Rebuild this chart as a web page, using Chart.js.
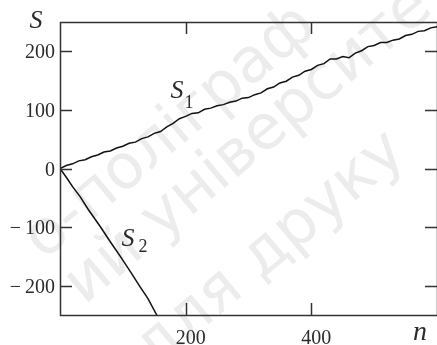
<!DOCTYPE html>
<html>
<head>
<meta charset="utf-8">
<script src="https://cdn.jsdelivr.net/npm/chart.js@4"></script>
<style>
  html, body { margin: 0; padding: 0; background: #fff; }
  #wrap { width: 437px; height: 345px; }
</style>
</head>
<body>
<div id="wrap"><canvas id="chart" width="437" height="345"></canvas></div>
<script>
// S1 - random walk with drift
const nS1 = [0, 10, 20, 30, 40, 50, 60, 70, 80, 90, 100, 110, 120, 130, 140, 150, 160, 170, 180, 190,
             200, 210, 220, 230, 240, 250, 260, 270, 280, 290, 300, 310, 320, 330, 340, 350, 360, 370, 380, 390,
             400, 410, 420, 430, 440, 450, 460, 470, 480, 490, 500, 510, 520, 530, 540, 550, 560, 570, 580, 590, 600];
const valS1 = [0, 5, 8, 13, 15, 20, 23, 28, 30, 35, 38, 43, 45, 51, 54, 60, 63, 71, 77, 85,
               89, 94, 95, 101, 103, 107, 109, 113, 115, 120, 121, 126, 129, 136, 139, 146, 149, 156, 159, 166,
               169, 176, 179, 187, 187, 191, 189, 197, 201, 208, 210, 215, 215, 219, 221, 227, 229, 234, 235, 240, 242];

// S2
const nS2 = [0, 10, 20, 32, 45, 64, 80, 96, 112, 127, 140, 154, 160];
const valS2 = [0, -15, -31, -48, -70, -99, -125, -150, -176, -201, -222, -250, -259];

const xTicks = [200, 400];
const yTicks = [-200, -100, 0, 100, 200];

// watermark lines
const wmLines = ['о-поліграф', 'ий університет', 'для друку'];

const toPts = (xs, ys) => xs.map((x, i) => ({ x: x, y: ys[i] }));

const serif = "'Liberation Serif', 'Times New Roman', serif";
const ink = '#2b2b2b';

const yLabel = v => v < 0 ? '\u2212\u2009' + Math.abs(v) : String(v);

const watermark = {
    id: 'watermark',
    beforeDraw(chart) {
        const ctx = chart.ctx;
        const ends = [[308, 18], [452, -24], [398, 144]];
        ctx.save();
        ctx.fillStyle = '#ececec';
        ctx.font = "62px 'DejaVu Sans', sans-serif";
        ctx.textAlign = 'right';
        ctx.textBaseline = 'middle';
        wmLines.forEach((t, i) => {
            ctx.save();
            ctx.translate(ends[i][0], ends[i][1]);
            ctx.rotate(-40 * Math.PI / 180);
            ctx.fillText(t, 0, 0);
            ctx.restore();
        });
        ctx.restore();
    }
};

const frame = {
    id: 'frame',
    afterDraw(chart) {
        const ctx = chart.ctx;
        const a = chart.chartArea;
        const xs = chart.scales.x, ys = chart.scales.y;
        ctx.save();
        ctx.strokeStyle = '#333';
        ctx.lineWidth = 1.5;
        ctx.strokeRect(a.left + 0.5, a.top + 0.5, a.right - a.left, a.bottom - a.top);
        ctx.beginPath();
        yTicks.forEach(v => {
            const y = Math.round(ys.getPixelForValue(v)) + 0.5;
            ctx.moveTo(a.left, y); ctx.lineTo(a.left + 12, y);
            ctx.moveTo(a.right, y); ctx.lineTo(a.right - 12, y);
        });
        xTicks.forEach(v => {
            const x = Math.round(xs.getPixelForValue(v)) + 0.5;
            ctx.moveTo(x, a.bottom); ctx.lineTo(x, a.bottom - 12);
            ctx.moveTo(x, a.top); ctx.lineTo(x, a.top + 12);
        });
        ctx.stroke();

        // tick labels
        ctx.fillStyle = ink;
        ctx.font = '20px ' + serif;
        ctx.textBaseline = 'alphabetic';
        ctx.textAlign = 'right';
        yTicks.forEach(v => {
            ctx.fillText(yLabel(v), a.left - 5, ys.getPixelForValue(v) + 7);
        });
        ctx.textAlign = 'center';
        xTicks.forEach(v => {
            ctx.fillText(String(v), xs.getPixelForValue(v) + 5, 344);
        });

        // axis names and curve labels
        ctx.textBaseline = 'middle';
        ctx.font = 'italic 26px ' + serif;
        ctx.fillText('S', 36, 21);
        ctx.fillText('S', 177, 91);
        ctx.fillText('S', 128, 239);
        ctx.font = 'italic 28px ' + serif;
        ctx.fillText('n', 420, 333);
        ctx.font = '18px ' + serif;
        ctx.fillText('1', 189, 103);
        ctx.fillText('2', 143, 247);
        ctx.restore();
    }
};

function draw() {
    const ctx = document.getElementById('chart').getContext('2d');
    new Chart(ctx, {
        type: 'line',
        data: {
            datasets: [{
                label: 'S1',
                data: toPts(nS1, valS1),
                borderColor: '#111',
                borderWidth: 1.5,
                pointRadius: 0,
                tension: 0
            }, {
                label: 'S2',
                data: toPts(nS2, valS2),
                borderColor: '#111',
                borderWidth: 1.5,
                pointRadius: 0,
                tension: 0
            }]
        },
        options: {
            responsive: false,
            animation: false,
            devicePixelRatio: 1,
            layout: { padding: { top: 22, right: 0, left: 0, bottom: 0 } },
            plugins: {
                legend: { display: false },
                tooltip: { enabled: false }
            },
            scales: {
                x: {
                    type: 'linear',
                    min: 0,
                    max: 600,
                    grid: { display: false },
                    border: { display: false },
                    ticks: { display: false },
                    afterFit: s => { s.height = 30; }
                },
                y: {
                    type: 'linear',
                    min: -250,
                    max: 250,
                    grid: { display: false },
                    border: { display: false },
                    ticks: { display: false },
                    afterFit: s => { s.width = 60; }
                }
            }
        },
        plugins: [watermark, frame]
    });
}

Promise.all([
    document.fonts.load("20px 'Liberation Serif'"),
    document.fonts.load("italic 26px 'Liberation Serif'"),
    document.fonts.load("62px 'DejaVu Sans'")
]).then(draw, draw);
</script>
</body>
</html>
